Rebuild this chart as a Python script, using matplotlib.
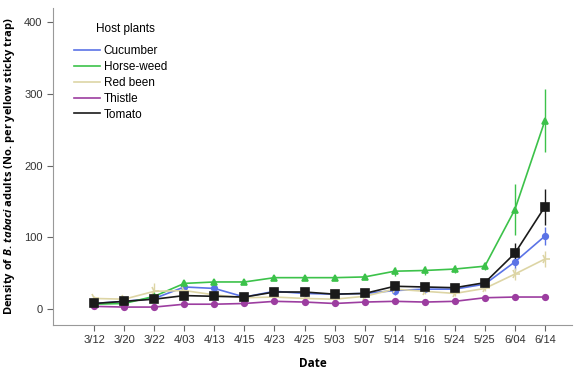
import matplotlib
matplotlib.use("Agg")
import matplotlib.pyplot as plt
import numpy as np

dates = ["3/12", "3/20", "3/22", "4/03", "4/13", "4/15", "4/23", "4/25",
         "5/03", "5/07", "5/14", "5/16", "5/24", "5/25", "6/04", "6/14"]

cucumber = [8, 11, 15, 31, 29, 17, 25, 22, 21, 22, 26, 28, 28, 35, 66, 102]
cucumber_err = [2, 2, 3, 4, 4, 3, 4, 3, 3, 3, 6, 4, 4, 4, 12, 12]
horseweed = [7, 8, 18, 36, 38, 38, 44, 44, 44, 45, 53, 54, 56, 60, 139, 263]
horseweed_err = [2, 2, 3, 4, 3, 3, 3, 3, 3, 3, 6, 6, 6, 6, 36, 44]
redbeen = [15, 14, 25, 26, 20, 16, 17, 15, 14, 18, 28, 25, 22, 29, 49, 70]
redbeen_err = [4, 3, 11, 4, 3, 3, 3, 3, 3, 3, 4, 4, 3, 4, 8, 11]
thistle = [4, 3, 3, 7, 7, 8, 11, 10, 8, 10, 11, 10, 11, 16, 17, 17]
thistle_err = [1, 1, 1, 2, 2, 2, 2, 2, 2, 2, 3, 2, 2, 2, 3, 3]
tomato = [8, 11, 14, 19, 18, 17, 24, 24, 21, 22, 32, 31, 30, 37, 78, 143]
tomato_err = [2, 2, 3, 3, 3, 3, 3, 3, 3, 3, 4, 4, 4, 4, 15, 25]

series = [
    ("Cucumber", cucumber, cucumber_err, "#5b73e6", "o", 4),
    ("Horse-weed", horseweed, horseweed_err, "#3cc24a", "^", 5),
    ("Red been", redbeen, redbeen_err, "#ddd5a5", "4", 7),
    ("Thistle", thistle, thistle_err, "#9c3da0", "o", 4),
    ("Tomato", tomato, tomato_err, "#1a1a1a", "s", 6),
]

plt.rcParams['mathtext.fontset'] = 'custom'
plt.rcParams['mathtext.it'] = 'Open Sans:italic:bold'
plt.rcParams['mathtext.rm'] = 'Open Sans:bold'

fig = plt.figure(figsize=(5.8, 3.7), dpi=100)
ax = fig.add_axes([0.0914, 0.1216, 0.8948, 0.857])
x = np.arange(len(dates))

handles = []
for name, vals, errs, col, mk, ms in series:
    ax.errorbar(x, vals, yerr=errs, color=col, marker=mk, markersize=ms,
                lw=1.2, elinewidth=1.0, capsize=0, mew=1.2)
    h, = ax.plot([], [], color=col, lw=1.2, label=name)
    handles.append(h)

ax.set_xlim(-1.37, 15.9)
ax.set_ylim(-22, 420)
ax.set_xticks(x)
ax.set_xticklabels(dates, fontsize=8, family="Liberation Sans", color="#333333")
ax.set_yticks([0, 100, 200, 300, 400])
ax.set_yticklabels(["0", "100", "200", "300", "400"], fontsize=8,
                   family="Liberation Sans", color="#333333")
for s in ["top", "right"]:
    ax.spines[s].set_visible(False)
for s in ["left", "bottom"]:
    ax.spines[s].set_color("#999999")
ax.tick_params(axis="both", direction="out", length=4, color="#666666", width=0.8)

ax.set_xlabel("Date", fontsize=8.5, fontweight="bold", family="Open Sans", labelpad=8)
ax.set_ylabel(r"Density of $\mathit{B.\,tabaci}$ adults (No. per yellow sticky trap)",
              fontsize=8, fontweight="bold", family="Open Sans", labelpad=5)

leg = ax.legend(handles=handles, title="Host plants", loc="upper left",
                bbox_to_anchor=(0.02, 0.985), frameon=False,
                prop={"family": "Liberation Sans", "size": 8.5},
                handlelength=2.2, handletextpad=0.3, labelspacing=0.33)
leg.get_title().set_fontfamily("Liberation Sans")
leg.get_title().set_fontsize(8.5)
leg._legend_box.align = "left"
leg._legend_box.sep = 7
leg.get_title().set_position((22, 0))

fig.savefig("out.png", dpi=100)
